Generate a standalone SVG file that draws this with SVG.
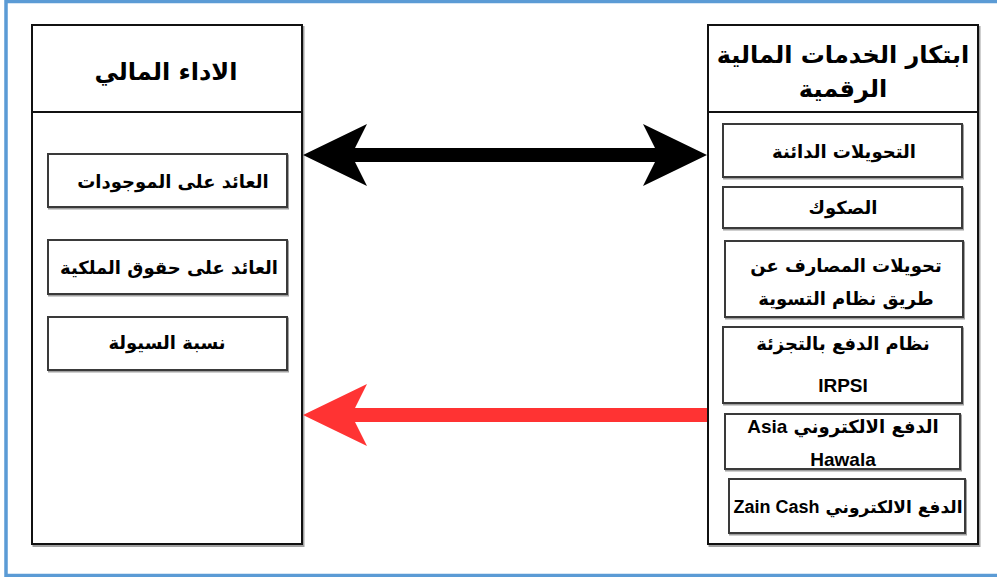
<svg xmlns="http://www.w3.org/2000/svg" width="997" height="577" viewBox="0 0 997 577">
<style>
.frame{fill:none;stroke:#5b9bd5;stroke-width:3.5}
.outer{fill:#fff;stroke:#111;stroke-width:2}
.inner{fill:#fff;stroke:#3a3a3a;stroke-width:2}
.shadow{fill:none;stroke:#a0a0a0;stroke-width:2}
.div{stroke:#111;stroke-width:2}
text{font-family:"DejaVu Sans","Liberation Sans",sans-serif;font-weight:bold;fill:#000;text-anchor:middle}
.h{font-size:24px}
.t{font-size:18px}
.l{font-family:"Liberation Sans",Arial,sans-serif;font-size:19px}
.z{font-size:17px}
.zl{font-family:"Liberation Sans",Arial,sans-serif;font-size:18px}
</style>
<rect x="0" y="0" width="997" height="577" fill="#fff"/>
<rect class="frame" x="6" y="1.5" width="1000" height="574"/>
<g id="financial-performance">
<rect class="shadow" x="33.5" y="27" width="270" height="519"/>
<rect class="outer" x="32" y="25" width="270" height="519"/>
<line class="div" x1="32" y1="112" x2="302" y2="112"/>
<text class="h" x="166" y="80" direction="rtl">الاداء المالي</text>
</g>
<g id="return-on-assets">
<rect class="shadow" x="49" y="155.5" width="239" height="53"/>
<rect class="inner" x="48" y="154" width="239" height="53"/>
<text class="t" x="173" y="188" direction="rtl">العائد على الموجودات</text>
</g>
<g id="return-on-equity">
<rect class="shadow" x="49" y="241.5" width="239" height="54"/>
<rect class="inner" x="48" y="240" width="239" height="54"/>
<text class="t" x="169" y="274" direction="rtl">العائد على حقوق الملكية</text>
</g>
<g id="liquidity-ratio">
<rect class="shadow" x="49" y="318.5" width="239" height="53"/>
<rect class="inner" x="48" y="317" width="239" height="53"/>
<text class="t" x="167" y="349" direction="rtl">نسبة السيولة</text>
</g>
<g id="digital-financial-innovation">
<rect class="shadow" x="709.5" y="27" width="270" height="519"/>
<rect class="outer" x="708" y="25" width="270" height="519"/>
<line class="div" x1="708" y1="112" x2="978" y2="112"/>
<text class="h" x="843" y="63" direction="rtl">ابتكار الخدمات المالية</text>
<text class="h" x="843" y="97" direction="rtl">الرقمية</text>
</g>
<g id="credit-transfers">
<rect class="shadow" x="724" y="125.5" width="239" height="53"/>
<rect class="inner" x="723" y="124" width="239" height="53"/>
<text class="t" x="844" y="158" direction="rtl">التحويلات الدائنة</text>
</g>
<g id="sukuk">
<rect class="shadow" x="724" y="188.5" width="239" height="41"/>
<rect class="inner" x="723" y="187" width="239" height="41"/>
<text class="t" x="843" y="214" direction="rtl">الصكوك</text>
</g>
<g id="bank-transfers">
<rect class="shadow" x="726" y="242.5" width="238" height="76"/>
<rect class="inner" x="725" y="241" width="238" height="76"/>
<text class="t" x="846" y="272" direction="rtl">تحويلات المصارف عن</text>
<text class="t" x="846" y="305" direction="rtl">طريق نظام التسوية</text>
</g>
<g id="irpsi">
<rect class="shadow" x="724" y="328.5" width="239" height="76"/>
<rect class="inner" x="723" y="327" width="239" height="76"/>
<text class="t" x="843" y="350" direction="rtl">نظام الدفع بالتجزئة</text>
<text class="l" x="843" y="392">IRPSI</text>
</g>
<g id="asia-hawala">
<rect class="shadow" x="726" y="415.5" width="235" height="55"/>
<rect class="inner" x="725" y="414" width="235" height="55"/>
<text class="t" x="843" y="433" direction="rtl">الدفع الالكتروني <tspan class="l">Asia</tspan></text>
<text class="l" x="843" y="466">Hawala</text>
</g>
<g id="zain-cash">
<rect class="shadow" x="730" y="480.5" width="236" height="54"/>
<rect class="inner" x="729" y="479" width="236" height="54"/>
<text class="z" x="848" y="513" direction="rtl">الدفع الالكتروني <tspan class="zl">Zain Cash</tspan></text>
</g>
<g id="connectors">
<path d="M303,155 L367,124 L355,148 L655,148 L643,124 L707,155 L643,186 L655,162 L355,162 L367,186 Z" fill="#000"/>
<path d="M303,415 L367,384 L355,408 L707,408 L707,422 L355,422 L367,446 Z" fill="#ff3333"/>
</g>
</svg>
